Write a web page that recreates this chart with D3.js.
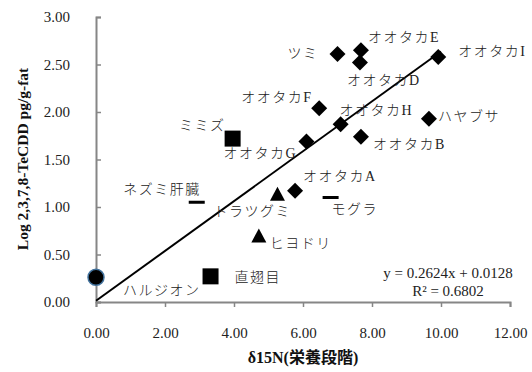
<!DOCTYPE html>
<html>
<head>
<meta charset="utf-8">
<script src="https://cdn.jsdelivr.net/npm/d3@7"></script>
<style>
  body { margin: 0; background: #fff; }
  text { font-family: "Liberation Serif", "DejaVu Serif", serif; }
  .jp { font-family: "Liberation Serif", "Noto Sans CJK JP", serif; font-weight: 300; }
</style>
</head>
<body>
<script>
// species / samples
const names = ['ハルジオン', 'ミミズ', '直翅目', 'ネズミ肝臓', 'モグラ', 'トラツグミ', 'ヒヨドリ',
  'オオタカA', 'オオタカB', 'オオタカC', 'オオタカD', 'オオタカE', 'オオタカF', 'オオタカH', 'オオタカI',
  'ツミ', 'ハヤブサ'];
// δ15N
const xValues = [0.0, 3.96, 3.32, 2.92, 6.80, 5.26, 4.72,
  5.77, 7.68, 6.10, 7.65, 7.68, 6.47, 7.09, 9.92,
  7.00, 9.65];
// log TeCDD
const yValues = [0.26, 1.72, 0.27, 1.05, 1.10, 1.13, 0.69,
  1.17, 1.74, 1.69, 2.52, 2.65, 2.04, 1.87, 2.58,
  2.61, 1.93];
const shapes = ['circle', 'square', 'square', 'dash', 'dash', 'triangle', 'triangle',
  'diamond', 'diamond', 'diamond', 'diamond', 'diamond', 'diamond', 'diamond', 'diamond',
  'diamond', 'diamond'];
// label text shown (オオタカC is printed as G in the chart)
const labels = ['ハルジオン', 'ミミズ', '直翅目', 'ネズミ肝臓', 'モグラ', 'トラツグミ', 'ヒヨドリ',
  'オオタカA', 'オオタカB', 'オオタカG', 'オオタカD', 'オオタカE', 'オオタカF', 'オオタカH', 'オオタカI',
  'ツミ', 'ハヤブサ'];

const xTicks = [0, 2, 4, 6, 8, 10, 12];
const yTicks = [0, 0.5, 1, 1.5, 2, 2.5, 3];
const slope = 0.2624, intercept = 0.0128, r2 = 0.6802;
const fitRange = [0, 10];

// label placement in pixels relative to the point: [dx, dy, anchor]
const labelPos = {
  'ハルジオン': [27, 13, 'start'],
  'ミミズ': [-7, -13, 'end'],
  '直翅目': [24, 1, 'start'],
  'ネズミ肝臓': [4, -13, 'end'],
  'モグラ': [1, 12, 'start'],
  'トラツグミ': [-64, 17, 'start'],
  'ヒヨドリ': [11, 7, 'start'],
  'オオタカA': [8, -14, 'start'],
  'オオタカB': [12, 8, 'start'],
  'オオタカG': [-83, 12, 'start'],
  'オオタカD': [-13, 18, 'start'],
  'オオタカE': [7, -13, 'start'],
  'オオタカF': [-78, -11, 'start'],
  'オオタカH': [-1, -14, 'start'],
  'オオタカI': [20, -5, 'start'],
  'ツミ': [-19, -1, 'end'],
  'ハヤブサ': [9, -2, 'start']
};

const W = 532, H = 372;
const svg = d3.select('body').append('svg')
  .attr('width', W).attr('height', H);

const x = d3.scaleLinear().domain([0, 12]).range([96, 510]);
const y = d3.scaleLinear().domain([0, 3]).range([302, 17]);

const axisColor = '#868686';

// x axis
const gx = svg.append('g').attr('transform', `translate(0,${y(0)})`)
  .call(d3.axisBottom(x).tickValues(xTicks).tickSize(5).tickPadding(20).tickFormat(d3.format('.2f')));
// y axis (ticks point inward)
const gy = svg.append('g').attr('transform', `translate(${x(0)},0)`)
  .call(d3.axisLeft(y).tickValues(yTicks).tickSize(-5).tickPadding(26).tickFormat(d3.format('.2f')));

[gx, gy].forEach(g => {
  g.select('.domain').attr('stroke', axisColor).attr('stroke-width', 2);
  g.selectAll('.tick line').attr('stroke', axisColor).attr('stroke-width', 1.5);
  g.selectAll('.tick text').attr('font-size', 15).attr('fill', '#222')
    .attr('font-family', '"Liberation Serif", serif');
});

// trend line
svg.append('line')
  .attr('x1', x(fitRange[0])).attr('y1', y(slope * fitRange[0] + intercept))
  .attr('x2', x(fitRange[1])).attr('y2', y(slope * fitRange[1] + intercept))
  .attr('stroke', '#000').attr('stroke-width', 2);

const pts = names.map((n, i) => ({ name: n, x: xValues[i], y: yValues[i], shape: shapes[i], label: labels[i] }));

const marks = svg.append('g');
pts.forEach(d => {
  const cx = x(d.x), cy = y(d.y);
  if (d.shape === 'circle') {
    marks.append('circle').attr('cx', cx).attr('cy', cy).attr('r', 8)
      .attr('fill', '#000').attr('stroke', '#41719c').attr('stroke-width', 1.5);
  } else if (d.shape === 'square') {
    marks.append('rect').attr('x', cx - 8).attr('y', cy - 8).attr('width', 16).attr('height', 16).attr('fill', '#000');
  } else if (d.shape === 'dash') {
    marks.append('rect').attr('x', cx - 8).attr('y', cy - 1.5).attr('width', 16).attr('height', 3).attr('fill', '#000');
  } else if (d.shape === 'triangle') {
    marks.append('path').attr('d', `M${cx},${cy - 8}L${cx + 7.5},${cy + 6}L${cx - 7.5},${cy + 6}Z`).attr('fill', '#000');
  } else {
    marks.append('path').attr('d', `M${cx},${cy - 8}L${cx + 8},${cy}L${cx},${cy + 8}L${cx - 8},${cy}Z`).attr('fill', '#000');
  }
});

// point labels
svg.append('g').selectAll('text')
  .data(pts)
  .join('text')
  .attr('class', 'jp')
  .attr('x', d => x(d.x) + labelPos[d.label][0])
  .attr('y', d => y(d.y) + labelPos[d.label][1])
  .attr('text-anchor', d => labelPos[d.label][2])
  .attr('dominant-baseline', 'central')
  .attr('font-size', 14)
  .attr('letter-spacing', 1.5)
  .attr('fill', '#222')
  .text(d => d.label);

// regression text
svg.append('text').attr('x', 448).attr('y', 278).attr('text-anchor', 'middle')
  .attr('font-size', 15).attr('fill', '#222')
  .text(`y = ${slope}x + ${intercept}`);
svg.append('text').attr('x', 448).attr('y', 296).attr('text-anchor', 'middle')
  .attr('font-size', 15).attr('fill', '#222')
  .text(`R² = ${r2}`);

// axis titles
svg.append('text')
  .attr('transform', 'translate(28,159) rotate(-90)')
  .attr('text-anchor', 'middle').attr('font-size', 15.5).attr('font-weight', 'bold')
  .attr('fill', '#111')
  .text('Log 2,3,7,8-TeCDD pg/g-fat');
svg.append('text')
  .attr('x', 303).attr('y', 363).attr('text-anchor', 'middle')
  .attr('font-size', 16).attr('font-weight', 'bold').attr('fill', '#111')
  .style('font-family', '"Liberation Serif", "Noto Sans CJK JP", serif')
  .text('δ15N(栄養段階)');
</script>
</body>
</html>
